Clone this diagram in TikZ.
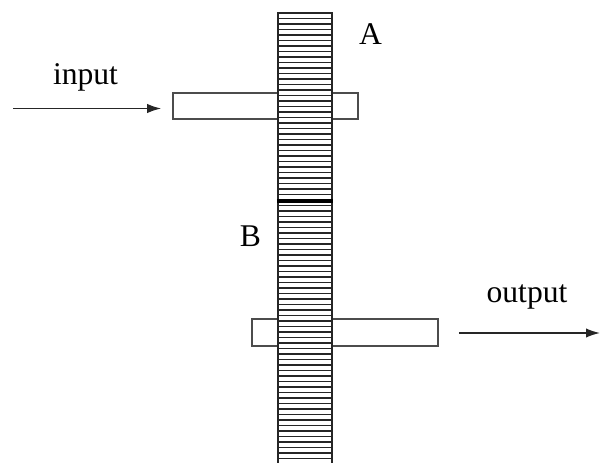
\documentclass[tikz,border=0pt]{standalone}
\usepackage{fontspec}
\setmainfont{Liberation Serif}
\usetikzlibrary{arrows.meta}
\begin{document}
\begin{tikzpicture}[x=0.75pt,y=-0.75pt,
  shaft/.style={draw=black!70,fill=white,line width=1.2pt,inner sep=0pt},
  gear/.style={draw=black!85,fill=white,line width=1.6pt,inner sep=0pt,
    minimum width=54*0.75pt,
    path picture={\foreach \i in {1,...,52}
      \draw[hatch] ([yshift=-\i*5.5*0.75pt]path picture bounding box.north west) -- ++(60,0);}},
  hatch/.style={draw=black!85,line width=1pt},
  lbl/.style={font=\fontsize{23.7}{28}\selectfont,inner sep=0pt,anchor=base},
  arr/.style={-{Latex[length=10.5pt,width=7pt]},line width=1.1pt,draw=black!85}]
\useasboundingbox (0,0) rectangle (600,463);
\node[shaft,minimum width=185*0.75pt,minimum height=26.5*0.75pt] (shaftA) at (265.5,106) {};
\node[shaft,minimum width=186*0.75pt,minimum height=27*0.75pt] (shaftB) at (345,332.5) {};
\node[gear,minimum height=187*0.75pt] (gearA) at (305,106.5) {};
\node[gear,minimum height=275*0.75pt] (gearB) at (305,337.5) {};
\draw[line width=2.8pt] (gearA.south west) -- (gearA.south east);
\node[lbl] (tin) at (85.5,85) {input};
\node[lbl] (tout) at (527,303) {output};
\node[lbl] (tA) at (370.5,45) {A};
\node[lbl] (tB) at (250.5,247) {B};
\coordinate (inS) at (13,108.5);
\coordinate (outE) at (600,333);
\draw[arr,shorten >=11*0.75pt] (inS) -- (inS -| shaftA.west);
\draw[arr,shorten <=20*0.75pt] (shaftB.east |- outE) -- (outE);
\end{tikzpicture}
\end{document}
